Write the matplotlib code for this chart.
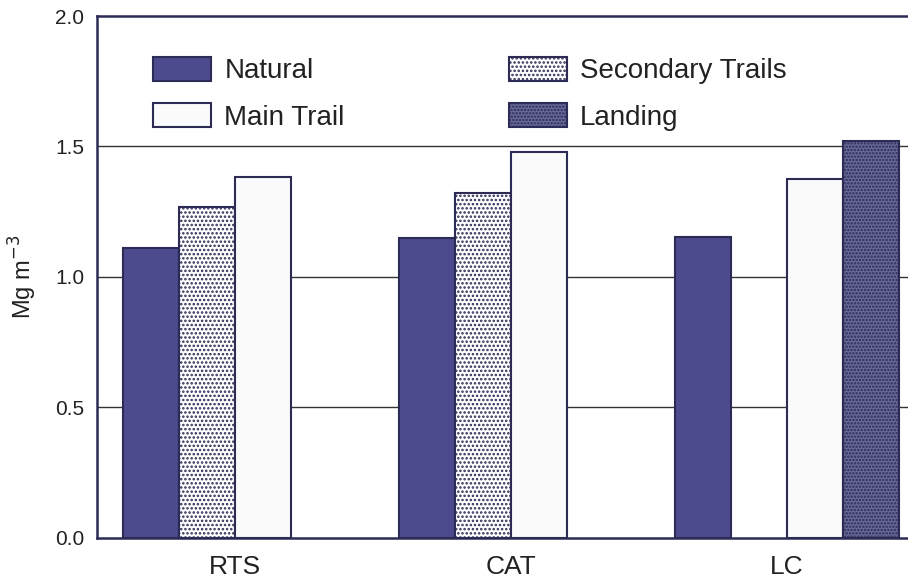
import numpy as np
import matplotlib.pyplot as plt

sites = ['RTS', 'CAT', 'LC']
natural = [1.11, 1.15, 1.155]
secondary = [1.27, 1.32, np.nan]
main_trail = [1.385, 1.48, 1.375]
landing = [np.nan, np.nan, 1.52]

plt.rcParams['font.family'] = ['Liberation Sans', 'DejaVu Sans']
plt.rcParams['hatch.color'] = '#2b2b55'
plt.rcParams['hatch.linewidth'] = 1.2

fig = plt.figure(figsize=(9.08, 5.84), dpi=100)
ax = fig.add_axes([0.1068, 0.0788, 0.8932, 0.8938])

navy = '#2b2b55'
x = np.arange(len(sites))
w = 56 / 276

ax.bar(x - 1.5 * w, natural, w, color='#4b4b8e', edgecolor=navy, lw=1.5, label='Natural', zorder=3)
ax.bar(x - 0.5 * w, secondary, w, color='white', edgecolor=navy, lw=1.5, hatch='....', label='Secondary Trails', zorder=3)
ax.bar(x + 0.5 * w, main_trail, w, color='#fafafa', edgecolor=navy, lw=1.5, label='Main Trail', zorder=3)
ax.bar(x + 1.5 * w, landing, w, color='#6a6a9c', edgecolor=navy, lw=1.5, hatch='.....', label='Landing', zorder=3)

ax.set_xlim(-0.5, 2.44)
ax.set_ylim(0, 2.0)
ax.set_yticks([0.0, 0.5, 1.0, 1.5, 2.0])
ax.set_yticklabels(['0.0', '0.5', '1.0', '1.5', '2.0'], fontsize=15, color='#222')
ax.set_xticks(x)
ax.set_xticklabels(sites, fontsize=19, color='#222')
ax.tick_params(axis='y', length=0, pad=9)
ax.tick_params(axis='x', length=0, pad=12)
ax.set_ylabel('Mg m$^{-3}$', fontsize=17, color='#222', labelpad=12)

for yv in [0.5, 1.0, 1.5]:
    ax.axhline(yv, color='#333', lw=1.0, zorder=1)

for s in ['left', 'bottom', 'top']:
    ax.spines[s].set_color(navy)
    ax.spines[s].set_linewidth(1.8)
ax.spines['right'].set_visible(False)

h, l = ax.get_legend_handles_labels()
order = [0, 2, 1, 3]
ax.legend([h[i] for i in order], [l[i] for i in order], ncol=2, frameon=False,
          loc='upper left', bbox_to_anchor=(0.069, 0.922), fontsize=20,
          borderpad=0, borderaxespad=0,
          handlelength=2.1, handleheight=0.95, handletextpad=0.47,
          columnspacing=5.9, labelspacing=0.68, labelcolor='#222')

plt.savefig('out.png', dpi=100)
